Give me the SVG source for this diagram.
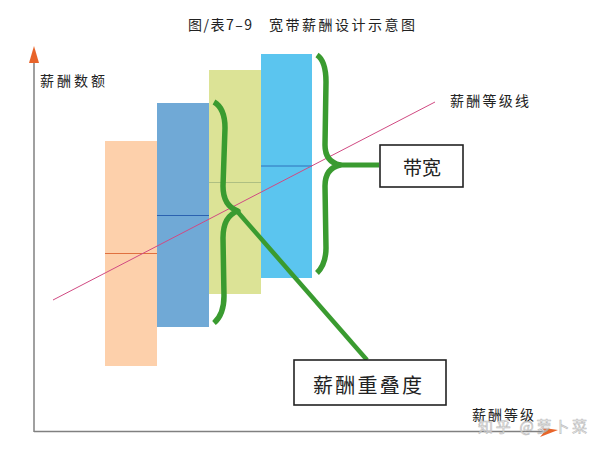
<svg xmlns="http://www.w3.org/2000/svg" width="603" height="449" viewBox="0 0 603 449">
<style>
  text { font-family: "Noto Sans CJK SC", "Noto Sans", sans-serif; fill: #222; }
  .lbl { font-size: 14px; }
  .brace { fill: none; stroke: #3A9B30; stroke-width: 5.5; stroke-linecap: butt; stroke-linejoin: round; }
  .box { fill: #fff; stroke: #222; stroke-width: 1.6; }
  .axis { stroke: #808080; stroke-width: 1.5; fill: none; }
  .mid { stroke-width: 1; }
</style>
<rect width="603" height="449" fill="#fff"/>

<g id="title">
  <text x="188" y="30" font-size="14" textLength="64" lengthAdjust="spacing">图/表7–9</text>
  <text x="269" y="30" font-size="14" textLength="146" lengthAdjust="spacing">宽带薪酬设计示意图</text>
</g>

<g id="axes">
  <line class="axis" x1="34" y1="432" x2="34" y2="62"/>
  <path d="M34,46 L39,63 L29,63 z" fill="#E8642A"/>
  <line class="axis" x1="34" y1="431.5" x2="545" y2="431.5"/>
  <path d="M558,430 L540,437 L545,431 L541,427.5 z" fill="#E8642A"/>
  <text class="lbl" x="40" y="86" textLength="65" lengthAdjust="spacing">薪酬数额</text>
  <text class="lbl" x="472" y="420" textLength="62" lengthAdjust="spacing">薪酬等级</text>
</g>

<g id="bar1">
  <rect x="105" y="141" width="52" height="225" fill="#FDD0AB"/>
  <line class="mid" x1="105" y1="253.5" x2="157" y2="253.5" stroke="#E0703F"/>
</g>
<g id="bar2">
  <rect x="157" y="103" width="52" height="224" fill="#70A9D6"/>
  <line class="mid" x1="157" y1="215.5" x2="209" y2="215.5" stroke="#2B62B0"/>
</g>
<g id="bar3">
  <rect x="209" y="70" width="52" height="224" fill="#DCE396"/>
  <line class="mid" x1="209" y1="182.5" x2="261" y2="182.5" stroke="#AEBF82"/>
</g>
<g id="bar4">
  <rect x="261" y="54" width="51" height="224" fill="#5BC5EF"/>
  <line class="mid" x1="261" y1="166" x2="312" y2="166" stroke="#2F72BC"/>
</g>

<g id="grade-line">
  <line x1="53" y1="300" x2="435" y2="102" stroke="#D04A82" stroke-width="1"/>
  <text class="lbl" x="450" y="106" textLength="79" lengthAdjust="spacing">薪酬等级线</text>
</g>

<g id="connectors">
  <path class="brace" d="M317,55 C323,59 326,68 326,82 L325,145 C325,157 331,163 340,165 C331,167 325,173 325,186 L326,248 C326,260 323,267 317,273"/>
  <line x1="337" y1="165" x2="379" y2="165" stroke="#3A9B30" stroke-width="5"/>
  <path class="brace" d="M214,102 C221,106 225,115 225,128 L223,186 C223,200 229,208 238,211 C229,214 223,222 223,238 L224,296 C224,309 221,317 214,323"/>
  <line x1="236" y1="210" x2="367" y2="360" stroke="#3A9B30" stroke-width="4.5"/>
</g>

<g id="bandwidth">
  <rect class="box" x="380" y="145" width="83" height="42"/>
  <text x="403" y="175" font-size="19" textLength="38" lengthAdjust="spacing">带宽</text>
</g>

<g id="overlap">
  <rect class="box" x="294" y="360" width="152" height="45"/>
  <text x="313" y="393" font-size="20" textLength="109" lengthAdjust="spacing">薪酬重叠度</text>
</g>

<g id="watermark">
  <text x="478" y="432" font-size="15" textLength="109" lengthAdjust="spacing" style="fill:#f4f4f4;stroke:#b0b0b0;stroke-width:0.6;opacity:0.85">知乎 @萝卜菜</text>
</g>
</svg>
